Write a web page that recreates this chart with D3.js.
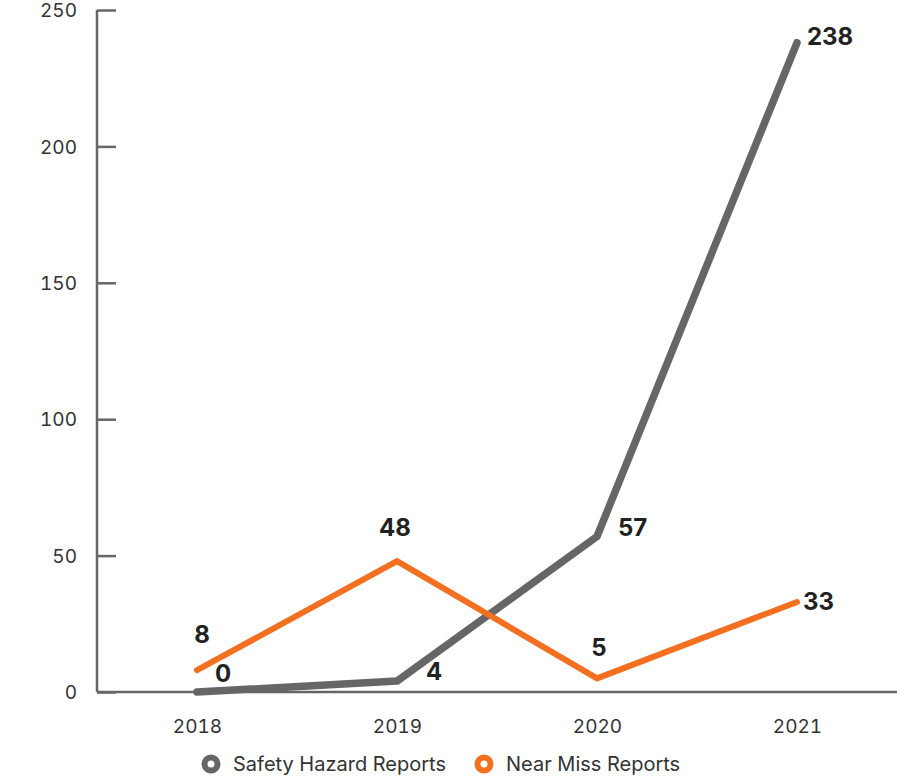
<!DOCTYPE html>
<html><head><meta charset="utf-8">
<script src="https://cdn.jsdelivr.net/npm/d3@7"></script>
<style>body{margin:0;background:#fff;} svg{display:block;font-family:Inter,"Noto Sans",sans-serif;}</style>
</head><body>
<svg id="c" width="911" height="777"></svg>
<script>
const years = ["2018","2019","2020","2021"];
const safetyHazard = [0, 4, 57, 238];
const nearMiss = [8, 48, 5, 33];
const yTicks = [0, 50, 100, 150, 200, 250];
const seriesNames = ["Safety Hazard Reports", "Near Miss Reports"];

const colors = ["#666666", "#F37021"];
const svg = d3.select("#c");
const x = d3.scalePoint().domain(years).range([97, 897]).padding(0.5);
const y = d3.scaleLinear().domain([0, 250]).range([692, 10]);

// y axis
const ya = svg.append("g").attr("transform","translate(97,0)")
  .call(d3.axisRight(y).tickValues(yTicks).tickSize(19).tickFormat(d3.format("d")));
ya.select(".domain").attr("stroke","#666").attr("stroke-width",2.5).attr("d","M0,"+y(0)+"V"+y(250));
ya.selectAll(".tick line").attr("stroke","#666").attr("stroke-width",2.5);
ya.selectAll(".tick text").attr("x",-20).attr("text-anchor","end").attr("fill","#333")
  .attr("font-size",19).attr("font-family","Inter,sans-serif").attr("dy","0.35em")
  .style("font-variant-numeric","tabular-nums");

// x axis
const xa = svg.append("g").attr("transform","translate(0,"+y(0)+")")
  .call(d3.axisBottom(x).tickSize(0).tickPadding(28));
xa.select(".domain").attr("stroke","#666").attr("stroke-width",2.5).attr("d","M97,0H897");
xa.selectAll(".tick text").attr("fill","#333").attr("font-size",19).attr("font-family","Inter,sans-serif")
  .style("font-variant-numeric","tabular-nums");

const line = d3.line().x((d,i)=>x(years[i])).y(d=>y(d));
const series = [safetyHazard, nearMiss];
series.forEach((s,k)=>{
  svg.append("path").attr("d", line(s)).attr("fill","none").attr("stroke",colors[k])
    .attr("stroke-width", k===0?7.5:6).attr("stroke-linecap","round").attr("stroke-linejoin","round");
});

// labels: [dx, dy(center), anchor]
const labelOff = [
  [[18,-18,"start"],[29,-9,"start"],[21,-8.5,"start"],[10,-6,"start"]],
  [[5,-36,"middle"],[-2,-33,"middle"],[2,-31,"middle"],[6,0,"start"]]
];
series.forEach((s,k)=>{
  s.forEach((v,i)=>{
    const o = labelOff[k][i];
    svg.append("text").attr("x",x(years[i])+o[0]).attr("y",y(v)+o[1])
      .attr("text-anchor",o[2]).attr("dy","0.35em").attr("font-size",24).attr("font-weight",700)
      .attr("fill","#222").text(v);
  });
});

// legend
const lg = svg.append("g").attr("transform","translate(0,764)");
const legX = [211, 484];
seriesNames.forEach((n,k)=>{
  lg.append("circle").attr("cx",legX[k]).attr("cy",0).attr("r",6.5).attr("fill","#fff")
    .attr("stroke",colors[k]).attr("stroke-width",6);
  lg.append("text").attr("x",legX[k]+22).attr("y",0).attr("dy","0.35em").attr("font-size",20)
    .attr("fill","#333").text(n);
});
</script>
</body></html>
